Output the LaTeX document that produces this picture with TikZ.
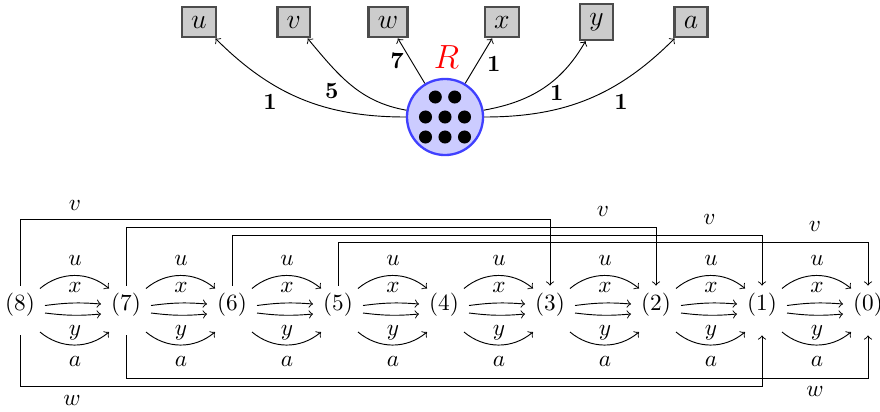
\documentclass[tikz,border=0pt]{standalone}
\usetikzlibrary{calc}
\begin{document}
\begin{tikzpicture}[x=0.43pt,y=0.43pt,
  box/.style={draw=black!70, fill=gray!40, line width=1pt, inner sep=4pt, font=\large},
  root/.style={circle, draw=blue!75, fill=blue!20, line width=1pt, minimum size=32.7pt, inner sep=0pt},
  blackdot/.style={circle, fill=black, minimum size=5.6pt, inner sep=0pt},
  wt/.style={font=\bfseries, inner sep=0pt},
  st/.style={text height=7.5pt, text depth=7.5pt, inner xsep=4pt, inner ysep=3pt},
  lab/.style={inner sep=0pt},
  every path/.style={->}
]
\useasboundingbox[-] (0,0) rectangle (880,-411);

% ---- top part ----
\node[box] (bu) at (199,-22) {$u$};
\node[box] (bv) at (293.8,-22) {$v$};
\node[box] (bw) at (388,-22) {$w$};
\node[box] (bx) at (502,-22) {$x$};
\node[box] (by) at (596.6,-22) {$y$};
\node[box] (ba) at (691,-22) {$a$};

\node[root] (R) at (445,-117) {};
\node[blackdot] (d1) at (435.3,-97) {};
\node[blackdot] (d2) at (454.7,-97) {};
\node[blackdot] (d3) at (425.5,-117) {};
\node[blackdot] (d4) at (445,-117) {};
\node[blackdot] (d5) at (464.5,-117) {};
\node[blackdot] (d6) at (425.5,-137) {};
\node[blackdot] (d7) at (445,-137) {};
\node[blackdot] (d8) at (464.5,-137) {};
\node[text=red, font=\Large, inner sep=0pt] (Rl) at (446.5,-57) {$R$};

\draw (R) to[out=180,in=-45] (bu);
\draw (R) to[out=170,in=-50] (bv);
\draw (R) -- (bw);
\draw (R) -- (bx);
\draw (R) to[out=10,in=-120] (by);
\draw (R) to[out=0,in=-135] (ba);

\node[wt] (wu) at (270,-101.6) {1};
\node[wt] (wv) at (331.8,-91.3) {5};
\node[wt] (ww) at (397,-61) {7};
\node[wt] (wx) at (493.7,-63.7) {1};
\node[wt] (wy) at (556.7,-93) {1};
\node[wt] (wa) at (621,-101.6) {1};

% ---- bottom part ----
\foreach \i in {0,...,8}
  \node[st] (n\i) at ({20+106*(8-\i)},-310.5) {$(\i)$};

\foreach \i/\j in {8/7,7/6,6/5,5/4,4/3,3/2,2/1,1/0}{
  \draw ([shift={(20,22)}]n\i.center) to[out=40,in=140] ([shift={(-17,22)}]n\j.center);
  \draw ([shift={(20,-21.5)}]n\i.center) to[out=-40,in=-140] ([shift={(-17,-21.5)}]n\j.center);
  \draw ([shift={(25,5)}]n\i.center) to[bend left=6] ([shift={(-25,6.5)}]n\j.center);
  \draw ([shift={(25,-2.5)}]n\i.center) to[bend right=6] ([shift={(-25,-3.5)}]n\j.center);
  \node[lab] (lu\i) at ([shift={(55,50.5)}]n\i.center) {$u$};
  \node[lab] (lx\i) at ([shift={(55,23)}]n\i.center) {$x$};
  \node[lab] (ly\i) at ([shift={(55,-22)}]n\i.center) {$y$};
  \node[lab] (la\i) at ([shift={(55,-51)}]n\i.center) {$a$};
}

\coordinate (v8) at (0,-219.3);
\coordinate (v7) at (0,-227.3);
\coordinate (v6) at (0,-235);
\coordinate (v5) at (0,-242.3);
\coordinate (w8) at (0,-386);
\coordinate (w7) at (0,-378.3);

\draw (n8.north) -- (n8.north |- v8) -| (n3.north);
\draw (n7.north) -- (n7.north |- v7) -| (n2.north);
\draw (n6.north) -- (n6.north |- v6) -| (n1.north);
\draw (n5.north) -- (n5.north |- v5) -| (n0.north);
\draw (n8.south) -- (n8.south |- w8) -| (n1.south);
\draw (n7.south) -- (n7.south |- w7) -| (n0.south);

\node[lab] (lv8) at (75,-205.3) {$v$};
\node[lab] (lv7) at (603,-211.7) {$v$};
\node[lab] (lv6) at (709.3,-219.3) {$v$};
\node[lab] (lv5) at (815,-226) {$v$};
\node[lab] (lw8) at (72,-400) {$w$};
\node[lab] (lw7) at (815,-391.7) {$w$};
\end{tikzpicture}
\end{document}
